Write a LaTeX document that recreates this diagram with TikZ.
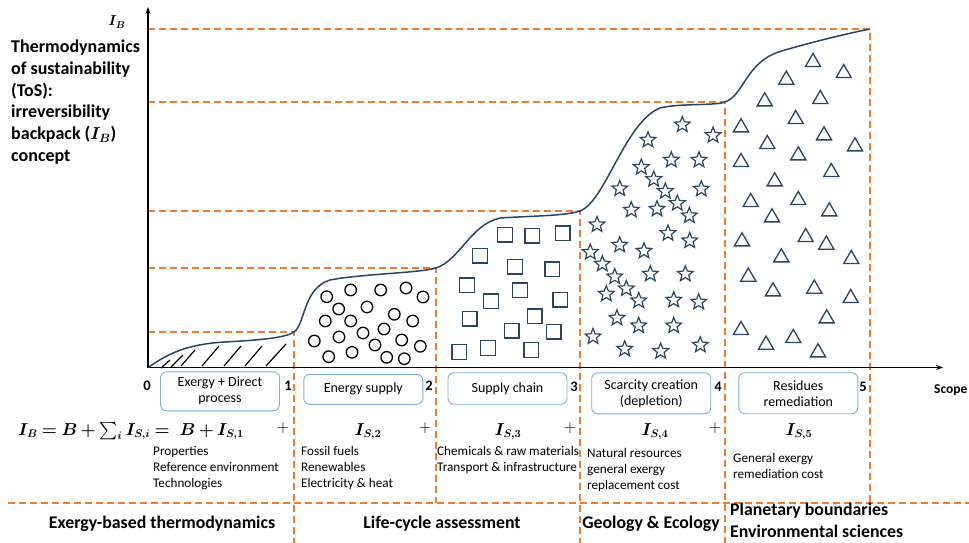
\documentclass[tikz,border=0pt]{standalone}
\usepackage{amsmath}
\usepackage{exscale}
\usepackage{fontspec}
\setmainfont{Carlito}
\usetikzlibrary{shapes.geometric,arrows.meta}
\definecolor{dorange}{HTML}{ED7D31}
\definecolor{navy}{HTML}{2B4462}
\definecolor{boxblue}{HTML}{7BADDE}
\newcommand{\tightmath}{\thickmuskip=4mu plus 1mu\relax\medmuskip=3mu plus 1mu\relax}
\tikzset{
  odash/.style={dorange, line width=1.5pt, dash pattern=on 7pt off 4pt},
  lbox/.style={draw=boxblue, line width=0.9pt, rounded corners=6pt, minimum width=119pt, align=center, font=\fontsize{14}{16}\selectfont, inner sep=1pt},
  ticklbl/.style={font=\bfseries\fontsize{14.5}{16}\selectfont, inner sep=0},
  smalltxt/.style={font=\fontsize{13.2}{16.2}\selectfont, align=left, anchor=north west, inner sep=0},
  bigtxt/.style={font=\bfseries\fontsize{17.8}{22}\selectfont, inner sep=0},
  eqtxt/.style={font=\boldmath\fontsize{16}{20}\selectfont, inner sep=0},
  circ/.style={draw=black, line width=1.3pt, circle, minimum size=11.5pt, inner sep=0},
  sqr/.style={draw=navy, line width=1.4pt, rectangle, minimum size=14.5pt, inner sep=0},
  strs/.style={draw=navy, line width=1.2pt, star, star points=5, star point ratio=2.3, minimum size=16.5pt, inner sep=0},
  tri/.style={draw=navy, line width=1.3pt, regular polygon, regular polygon sides=3, minimum size=17.5pt, inner sep=0},
  hatch/.style={black, line width=1.2pt},
}
\begin{document}
\begin{tikzpicture}[x=1pt,y=-1pt]
\useasboundingbox (0,0) rectangle (969,543);
% level dashed lines
\draw[odash] (148,332) -- (294,332) -- (294,543);
\draw[odash] (148,268) -- (436,268) -- (436,503);
\draw[odash] (148,211) -- (580,211) -- (580,543);
\draw[odash] (148,102) -- (725,102) -- (725,543);
\draw[odash] (148,29) -- (870,29) -- (870,503);
\draw[odash] (8,503) -- (969,503);
% axes
\draw[line width=1.3pt, -{Stealth[length=7pt,width=5pt]}] (148,368) -- (148,7);
\draw[line width=1.3pt, -{Stealth[length=7pt,width=5pt]}] (147.4,367.5) -- (943,367.5);
% curve
\draw[navy, line width=1.5pt] (149,367)
  .. controls (170,352) and (190,344) .. (225,342)
  .. controls (260,340) and (285,338) .. (294,332)
  .. controls (305,325) and (303,288) .. (330,280)
  .. controls (360,274) and (420,273) .. (436,268)
  .. controls (460,260) and (470,225) .. (500,218)
  .. controls (530,216) and (565,216) .. (580,211)
  .. controls (605,202) and (625,122) .. (660,108)
  .. controls (680,103) and (715,106) .. (725,102)
  .. controls (745,95) and (745,60) .. (785,50)
  .. controls (820,40) and (850,33) .. (870,29);
% hatch
\draw[hatch] (161,368) -- (170,360);
\draw[hatch] (171,367) -- (183,355);
\draw[hatch] (181,366) -- (195,350);
\draw[hatch] (202,366) -- (219,346);
\draw[hatch] (224,366) -- (241,346);
\draw[hatch] (245,366) -- (262,346);
\draw[hatch] (266,366) -- (286,344);
% circles
\foreach \x/\y [count=\i] in {326.7/296.7,350.7/290,380.7/290,406/288,423/297,338.7/309,367/307,394.3/314.3,325.3/321,350.7/321,412.7/321,363/333,384/329,314.3/341,339/337,375/345,401.7/340,420.3/346.3,328.7/356.7,352/352.3,386.7/357.3,404.3/358.7}
  \node[circ] (c\i) at (\x,\y) {};
% squares
\foreach \x/\y [count=\i] in {505/234.7,532.3/235.7,562.7/233.3,480/255.7,515/266.7,552.3/269.3,467/285.3,520/290.3,491/301.3,560.3/299.7,469.7/318.7,534.7/316.3,511.7/330.7,553.7/331.7,459.3/352,488/348,531.3/350}
  \node[sqr] (s\i) at (\x,\y) {};
% stars
\foreach \x/\y [count=\i] in {682.3/124.7,713/135.3,648/140,671.3/160,699/160,641.3/167.3,653.7/179.3,619.7/188.7,665.3/191.3,701.3/189,677.3/203.3,631.3/210,657/209,689.3/215.7,597/224.7,668/233.3,689.7/240.7,619.7/245,644/251,590.3/252.3,602.3/264,614.7/276.7,650.3/274,685.3/274,626.3/288.7,606.3/294,638.7/300.7,673.7/300,698.7/302,617/318,638.7/325.7,673.7/325.7,593/336.7,624.7/349,660.7/351.3,700.3/345}
  \node[strs] (r\i) at (\x,\y) {};
% triangles
\foreach \x/\y [count=\i] in {813/60.7,843.7/71.7,786.3/78.3,764.7/100,820.3/97.7,795.7/117.7,741/126,824/134,767.3/142.7,855/145,741/160.7,798.3/154,831.3/170.7,774.7/180,750.7/200.7,798.3/198.7,772/216,829.3/210,742/240,805.7/235.7,826.3/243.3,781.3/256,851.3/257.7,748.3/275.3,773/290,814.3/287.3,850.7/296.7,826.7/317,741/328.7,766/343.3,793.3/336.7,818/351}
  \node[tri] (t\i) at (\x,\y+1.5) {};
% axis labels
\node[font=\boldmath\fontsize{14}{16}\selectfont, inner sep=0] (ib) at (117,22) {$I_B$};
\node[font=\bfseries\fontsize{13.5}{16}\selectfont, anchor=west, inner sep=0] (scope) at (934,390) {Scope};
\node[align=left, anchor=north west, inner sep=0, font=\bfseries\fontsize{18}{21.7}\selectfont] (title) at (11,40)
  {Thermodynamics\\of sustainability\\(ToS):\\irreversibility\\backpack ({\boldmath$I_B$})\\concept};
% ticks
\node[ticklbl] (n0) at (147,386) {0};
\node[ticklbl] (n1) at (288,386) {1};
\node[ticklbl] (n2) at (429,386) {2};
\node[ticklbl] (n3) at (574,387) {3};
\node[ticklbl] (n4) at (718,387) {4};
\node[ticklbl] (n5) at (863,387) {5};
% boxes
\node[lbox, minimum height=39pt] (b1) at (220,391.3) {Exergy + Direct\\process};
\node[lbox, minimum height=30pt] (b2) at (363.3,389.3) {Energy supply};
\node[lbox, minimum height=31.5pt] (b3) at (507.5,388.5) {Supply chain};
\node[lbox, minimum height=41pt] (b4) at (651.2,393.3) {Scarcity creation\\(depletion)};
\node[lbox, minimum height=41pt] (b5) at (798.3,393.2) {Residues\\remediation};
% equation
\node[eqtxt, anchor=base west] (eq1) at (18,435) {$\tightmath I_B = B + \textstyle\sum\nolimits_i I_{S,i} =$};
\node[eqtxt, anchor=base east] (eq2) at (244,435) {$\tightmath B + I_{S,1}$};
\node[font=\fontsize{19}{22}\selectfont, inner sep=0] (pl1) at (283,428) {$+$};
\node[font=\fontsize{19}{22}\selectfont, inner sep=0] (pl2) at (425,428) {$+$};
\node[font=\fontsize{19}{22}\selectfont, inner sep=0] (pl3) at (570,428) {$+$};
\node[font=\fontsize{19}{22}\selectfont, inner sep=0] (pl4) at (715,428) {$+$};
\node[eqtxt, anchor=base] (is2) at (368,435) {$I_{S,2}$};
\node[eqtxt, anchor=base] (is3) at (508,435) {$I_{S,3}$};
\node[eqtxt, anchor=base] (is4) at (655,435) {$I_{S,4}$};
\node[eqtxt, anchor=base] (is5) at (799,435) {$I_{S,5}$};
% small texts
\node[smalltxt] (d1) at (153,446) {Properties\\Reference environment\\Technologies};
\node[smalltxt] (d2) at (301,446) {Fossil fuels\\Renewables\\Electricity \& heat};
\node[smalltxt] (d3) at (437,446) {Chemicals \& raw materials\\Transport \& infrastructure};
\node[smalltxt] (d4) at (587,448) {Natural resources\\general exergy\\replacement cost};
\node[smalltxt] (d5) at (733,453) {General exergy\\remediation cost};
% bottom disciplines
\node[bigtxt] (f1) at (162,524) {Exergy-based thermodynamics};
\node[bigtxt] (f2) at (442,524) {Life-cycle assessment};
\node[bigtxt] (f3) at (651,524) {Geology \& Ecology};
\node[bigtxt, align=left, anchor=north west, font=\bfseries\fontsize{17.8}{22}\selectfont] (f4) at (730,503) {Planetary boundaries\\Environmental sciences};
\end{tikzpicture}
\end{document}
